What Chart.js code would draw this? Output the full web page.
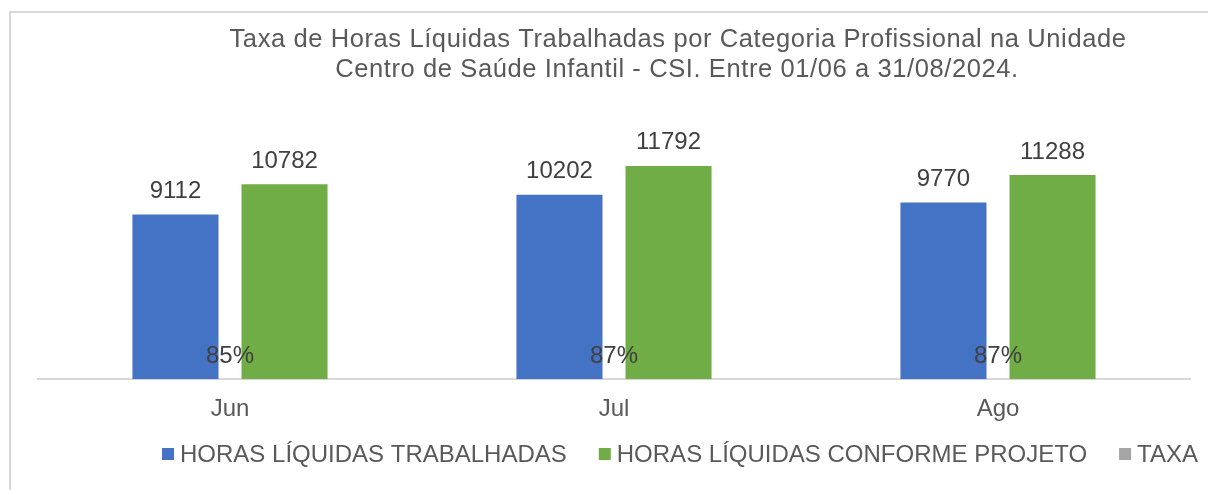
<!DOCTYPE html>
<html>
<head>
<meta charset="utf-8">
<script src="https://cdn.jsdelivr.net/npm/chart.js@4/dist/chart.umd.min.js"></script>
<style>
html,body{margin:0;padding:0;background:#fff;}
#wrap{width:1208px;height:490px;}
</style>
</head>
<body>
<div id="wrap"><canvas id="c" width="1208" height="490"></canvas></div>
<script>
const categories = ['Jun', 'Jul', 'Ago'];
const horasTrabalhadas = [9112, 10202, 9770];
const horasProjeto = [10782, 11792, 11288];
const taxa = [0.85, 0.87, 0.87];
const seriesNames = ['HORAS LÍQUIDAS TRABALHADAS', 'HORAS LÍQUIDAS CONFORME PROJETO', 'TAXA'];
const titleLines = ['Taxa de Horas Líquidas Trabalhadas por Categoria Profissional na Unidade', 'Centro de Saúde Infantil - CSI. Entre 01/06 a 31/08/2024.'];

const FONT = "'Liberation Sans', Arial, sans-serif";
Chart.defaults.font.family = FONT;
Chart.defaults.color = '#595959';

const bgPlugin = {
  id: 'bg',
  beforeDraw(chart) {
    const ctx = chart.ctx;
    ctx.save();
    ctx.fillStyle = '#fff';
    ctx.fillRect(0, 0, chart.width, chart.height);
    ctx.strokeStyle = '#d9d9d9';
    ctx.lineWidth = 2;
    ctx.strokeRect(10, 12, 1400, 700);
    ctx.restore();
  }
};

const labelPlugin = {
  id: 'labels',
  afterDatasetsDraw(chart) {
    const ctx = chart.ctx;
    ctx.save();
    ctx.font = '24px ' + FONT;
    ctx.fillStyle = '#404040';
    ctx.textAlign = 'center';
    ctx.textBaseline = 'alphabetic';
    chart.data.datasets.forEach((ds, i) => {
      const meta = chart.getDatasetMeta(i);
      meta.data.forEach((el, j) => {
        const v = ds.data[j];
        const txt = i === 2 ? Math.round(v * 100) + '%' : String(v);
        ctx.fillText(txt, el.x, el.y - 16.5);
      });
    });
    ctx.restore();
  }
};

const titleLegendPlugin = {
  id: 'titleLegend',
  afterDraw(chart) {
    const ctx = chart.ctx;
    ctx.save();
    ctx.font = '25.5px ' + FONT;
    ctx.fillStyle = '#595959';
    ctx.textAlign = 'center';
    ctx.textBaseline = 'alphabetic';
    ctx.letterSpacing = '0.6px';
    ctx.fillText(titleLines[0], 678, 46.5);
    ctx.fillText(titleLines[1], 677, 77);
    ctx.letterSpacing = '0px';
    // legend
    ctx.font = '24px ' + FONT;
    const box = 12, gapText = 6, gapItem = 32;
    const widths = chart.data.datasets.map(ds => ctx.measureText(ds.label).width);
    let total = 0;
    widths.forEach((w, i) => { total += box + gapText + w + (i < widths.length - 1 ? gapItem : 0); });
    let x = 680 - total / 2;
    ctx.textAlign = 'left';
    chart.data.datasets.forEach((ds, i) => {
      ctx.fillStyle = ds.backgroundColor;
      ctx.fillRect(x, 448, box, box);
      ctx.fillStyle = '#595959';
      ctx.fillText(ds.label, x + box + gapText, 462);
      x += box + gapText + widths[i] + gapItem;
    });
    ctx.restore();
  }
};

new Chart(document.getElementById('c'), {
  type: 'bar',
  data: {
    labels: categories,
    datasets: [
      { label: seriesNames[0], data: horasTrabalhadas, backgroundColor: '#4472c4', categoryPercentage: 0.568, barPercentage: 0.789 },
      { label: seriesNames[1], data: horasProjeto, backgroundColor: '#70ad47', categoryPercentage: 0.568, barPercentage: 0.789 },
      { label: seriesNames[2], data: taxa, backgroundColor: '#a5a5a5', grouped: false, categoryPercentage: 0.568, barPercentage: 0.789 }
    ]
  },
  options: {
    responsive: false,
    animation: false,
    layout: { padding: { top: 126, left: 38, right: 18, bottom: 50 } },
    plugins: {
      legend: { display: false },
      title: { display: false },
      tooltip: { enabled: false }
    },
    scales: {
      x: {
        offset: true,
        grid: { display: false, drawTicks: false },
        border: { display: true, color: '#d9d9d9', width: 2 },
        ticks: { font: { size: 24 }, color: '#595959', padding: 16 }
      },
      y: { display: false, min: 0, max: 14000 }
    }
  },
  plugins: [bgPlugin, labelPlugin, titleLegendPlugin]
});
</script>
</body>
</html>
